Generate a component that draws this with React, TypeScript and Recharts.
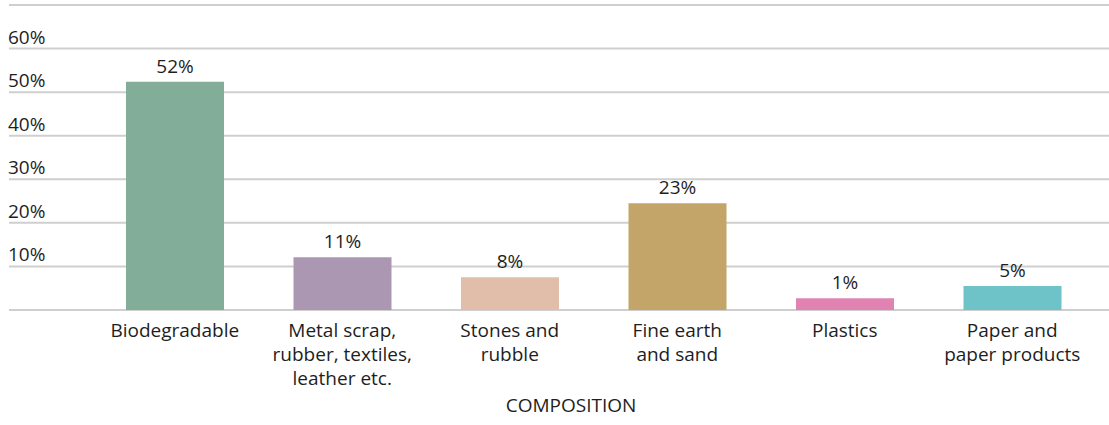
import React from 'react';
import { BarChart, Bar, XAxis, YAxis, CartesianGrid, Cell, LabelList } from 'recharts';

const categories = [
  'Biodegradable',
  'Metal scrap,\nrubber, textiles,\nleather etc.',
  'Stones and\nrubble',
  'Fine earth\nand sand',
  'Plastics',
  'Paper and\npaper products',
];
const values = [52.4, 12.1, 7.5, 24.5, 2.7, 5.5];
const valueLabels = ['52%', '11%', '8%', '23%', '1%', '5%'];
const colors = ['#82AD98', '#AB97B2', '#E0BEAA', '#C3A56A', '#E083B3', '#6DC3C8'];
const yTicks = [0, 10, 20, 30, 40, 50, 60, 70];
const yTickLabels = ['', '10%', '20%', '30%', '40%', '50%', '60%', ''];

const data = categories.map((c, i) => ({ name: c, value: values[i], label: valueLabels[i] }));

const FONT = '"Open Sans", sans-serif';
const TEXT = '#1e1e1e';
const FS = 19;

const renderYTick = (props: any) => {
  const idx = yTicks.indexOf(props.payload.value);
  const lab = idx >= 0 ? yTickLabels[idx] : '';
  return (
    <text x={8} y={props.y - 5} fontFamily={FONT} fontSize={FS} fill={TEXT} textAnchor="start">
      {lab}
    </text>
  );
};

const renderXTick = (props: any) => {
  const lines = String(props.payload.value).split('\n');
  return (
    <text x={props.x} y={props.y} fontFamily={FONT} fontSize={FS} fill={TEXT} textAnchor="middle">
      {lines.map((l, i) => (
        <tspan key={i} x={props.x} dy={i === 0 ? 19 : 24}>
          {l}
        </tspan>
      ))}
    </text>
  );
};

export default function App() {
  return (
    <div style={{ position: 'absolute', left: 0, top: 0 }}>
      <BarChart
        width={1109}
        height={425}
        data={data}
        margin={{ top: 5, right: 0, bottom: 0, left: 0 }}
        barSize={98}
      >
        <CartesianGrid horizontal vertical={false} stroke="#cfcfcf" strokeWidth={2} />
        <XAxis
          dataKey="name"
          axisLine={false}
          tickLine={false}
          height={115}
          interval={0}
          padding={{ left: 82, right: 13 }}
          tick={renderXTick}
          label={{
            value: 'COMPOSITION',
            position: 'insideBottom',
            offset: 13,
            dx: 12,
            fontFamily: FONT,
            fontSize: FS,
            fill: TEXT,
          }}
        />
        <YAxis
          width={9}
          domain={[0, 70]}
          ticks={yTicks}
          axisLine={false}
          tickLine={false}
          tick={renderYTick}
          interval={0}
        />
        <Bar dataKey="value" isAnimationActive={false}>
          {data.map((d, i) => (
            <Cell key={i} fill={colors[i]} />
          ))}
          <LabelList
            dataKey="label"
            position="top"
            offset={9}
            fontFamily={FONT}
            fontSize={FS}
            fill={TEXT}
          />
        </Bar>
      </BarChart>
    </div>
  );
}
